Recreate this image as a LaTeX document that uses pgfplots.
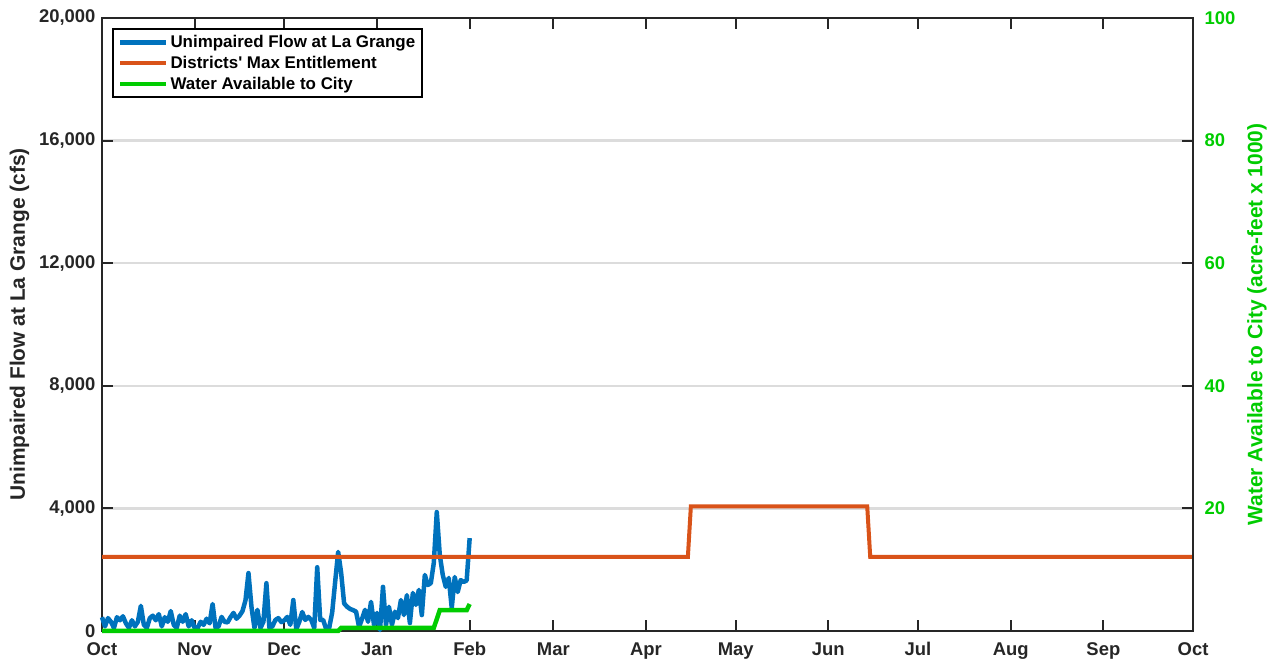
\documentclass[border=0pt]{standalone}
\usepackage{fontspec}
\setmainfont{Liberation Sans}
\usepackage{pgfplots}
\pgfplotsset{compat=1.18}
\definecolor{mblue}{HTML}{0072BD}
\definecolor{morange}{HTML}{D95319}
\definecolor{mgreen}{HTML}{00CC00}
\definecolor{axgray}{HTML}{262626}
\definecolor{gridgray}{HTML}{DCDCDC}
\begin{document}
\begin{tikzpicture}[x=1bp,y=1bp]
\useasboundingbox (0,0) rectangle (1270,660);
\begin{axis}[
  at={(102bp,29bp)}, anchor=south west, scale only axis,
  width=1091bp, height=613bp,
  xmin=0, xmax=365, ymin=0, ymax=20000,
  xtick={0,31,61,92,123,151,182,212,243,273,304,335,365},
  xticklabels={Oct,Nov,Dec,Jan,Feb,Mar,Apr,May,Jun,Jul,Aug,Sep,Oct},
  ytick={0,4000,8000,12000,16000,20000},
  scaled y ticks=false,
  /pgf/number format/1000 sep={,},
  /pgf/number format/assume math mode=true,
  ticklabel style={font=\bfseries\fontsize{18.5}{20}\selectfont, text=axgray},
  yticklabel style={xshift=-3bp},
  xticklabel style={yshift=-8bp},
  tick align=inside,
  major tick length=11bp,
  tick style={line width=2bp, color=axgray},
  axis line style={line width=2.5bp, color=axgray},
  ymajorgrids,
  grid style={line width=2.5bp, color=gridgray},
  every axis y label/.style={at={(axis description cs:-0.0755,0.5)}, rotate=90, anchor=center},
  ylabel={Unimpaired Flow at La Grange (cfs)},
  ylabel style={font=\bfseries\fontsize{21}{24}\selectfont, text=axgray},
  clip=false,
  legend cell align=left,
  legend style={at={(axis description cs:0.00917,0.9837)}, anchor=north west,
    draw=black, line width=2bp, fill=white,
    font=\bfseries\fontsize{17}{20}\selectfont,
    inner xsep=5bp, inner ysep=4.5bp, row sep=3bp},
  legend image code/.code={\draw[#1, line width=4.5bp] (0bp,0bp) -- (46bp,0bp);},
]
\addplot[mblue, line width=4.5bp, line join=round] coordinates {
(0,450)(1,150)(2,420)(3,300)(4,100)(5,450)(6,350)(7,480)(8,250)(9,100)
(10,350)(11,150)(12,300)(13,820)(14,200)(15,100)(16,420)(17,500)(18,350)(19,550)
(20,150)(21,450)(22,300)(23,650)(24,200)(25,100)(26,500)(27,300)(28,550)(29,150)
(30,350)(31,100)(32,100)(33,300)(34,200)(35,400)(36,250)(37,880)(38,100)(39,150)
(40,460)(41,300)(42,280)(43,450)(44,590)(45,400)(46,500)(47,650)(48,1000)(49,1890)
(50,790)(51,100)(52,690)(53,100)(54,300)(55,1560)(56,100)(57,150)(58,360)(59,420)
(60,290)(61,350)(62,460)(63,200)(64,1010)(65,60)(66,300)(67,620)(68,360)(69,460)
(70,360)(71,100)(72,2080)(73,360)(74,360)(75,60)(76,100)(77,600)(78,1600)(79,2580)
(80,1900)(81,900)(82,790)(83,720)(84,680)(85,630)(86,130)(87,400)(88,690)(89,300)
(90,950)(91,200)(92,590)(93,30)(94,1440)(95,200)(96,790)(97,200)(98,630)(99,420)
(100,1010)(101,520)(102,1170)(103,260)(104,1240)(105,850)(106,1340)(107,520)(108,1830)(109,1500)
(110,1560)(111,2220)(112,3880)(113,2480)(114,1830)(115,1440)(116,1730)(117,750)(118,1760)(119,1270)
(120,1660)(121,1600)(122,1650)(123,3030)
};
\addlegendentry{Unimpaired Flow at La Grange}
\addplot[morange, line width=4bp] coordinates {
(0,2416)(196,2416)(197,4066)(256,4066)(257,2416)(365,2416)
};
\addlegendentry{Districts\textquotesingle{} Max Entitlement}
\addlegendimage{mgreen, line width=4.5bp}
\addlegendentry{Water Available to City}
\end{axis}
\begin{axis}[
  at={(102bp,29bp)}, anchor=south west, scale only axis,
  width=1091bp, height=613bp,
  xmin=0, xmax=365, ymin=0, ymax=100,
  axis x line=none,
  axis y line*=right,
  ytick={20,40,60,80,100},
  /pgf/number format/assume math mode=true,
  yticklabel style={font=\bfseries\fontsize{18.5}{20}\selectfont, text=mgreen, xshift=8bp},
  tick align=inside,
  major tick length=11bp,
  tick style={line width=2bp, color=axgray},
  axis line style={line width=2.5bp, color=axgray},
  every axis y label/.style={at={(axis description cs:1.0585,0.5)}, rotate=90, anchor=center},
  ylabel={Water Available to City (acre-feet x 1000)},
  ylabel style={font=\bfseries\fontsize{21}{24}\selectfont, text=mgreen},
  clip=false,
]
\addplot[mgreen, line width=4.5bp] coordinates {
(0,0)(79,0)(80,0.5)(111,0.5)(113,3.4)(122,3.4)(123,4.4)
};
\end{axis}
\end{tikzpicture}
\end{document}
